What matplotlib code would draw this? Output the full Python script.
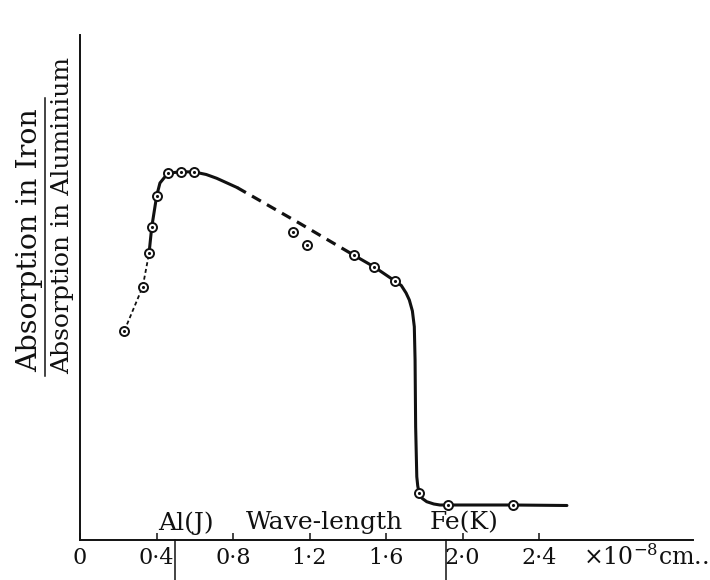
import matplotlib
matplotlib.use("Agg")
import matplotlib.pyplot as plt
from matplotlib.lines import Line2D

plt.rcParams['font.family'] = ['DejaVu Serif']
plt.rcParams['mathtext.fontset'] = 'dejavuserif'

# wave-length (x 10^-8 cm) and absorption ratio (arbitrary units)
obs_x = [0.232, 0.328, 0.361, 0.375, 0.401, 0.459, 0.527, 0.598,
         1.115, 1.187, 1.433, 1.539, 1.649, 1.774, 1.924, 2.264]
obs_y = [2.09, 2.53, 2.87, 3.13, 3.44, 3.67, 3.68, 3.68,
         3.08, 2.95, 2.85, 2.73, 2.59, 0.47, 0.35, 0.35]

# curve pieces
dotted_x = [0.232, 0.328, 0.361]
dotted_y = [2.093, 2.533, 2.867]

solid1_x = [0.361, 0.375, 0.401, 0.418, 0.459, 0.527, 0.598, 0.66, 0.715, 0.821]
solid1_y = [2.867, 3.127, 3.443, 3.570, 3.667, 3.683, 3.680, 3.655, 3.617, 3.525]

dashed_x = [0.821, 1.150, 1.433]
dashed_y = [3.525, 3.165, 2.847]

solid2_x = [1.433, 1.539, 1.649, 1.680, 1.705, 1.722, 1.738, 1.748, 1.752, 1.755,
            1.761, 1.766, 1.774, 1.790, 1.813, 1.850, 1.882, 1.924, 2.264, 2.546]
solid2_y = [2.847, 2.730, 2.587, 2.545, 2.470, 2.400, 2.290, 2.133, 1.800, 1.133,
            0.633, 0.540, 0.467, 0.415, 0.383, 0.360, 0.350, 0.350, 0.350, 0.345]

xticks = [0, 0.4, 0.8, 1.2, 1.6, 2.0, 2.4]
xtick_labels = ['0', '0·4', '0·8', '1·2', '1·6', '2·0', '2·4']

edge_marks = {'Al(J)': 0.497, 'Fe(K)': 1.914}

W, H = 710, 580
fig = plt.figure(figsize=(7.1, 5.8), dpi=100)
ax = fig.add_axes([80 / W, 40 / H, (693 - 80) / W, (540 - 35) / H])
ax.set_xlim(0, (693 - 80) / 191.25)
ax.set_ylim(0, (540 - 35) / 100)

ink = '#111111'
ax.plot(dotted_x, dotted_y, color=ink, lw=1.3, dashes=(2.2, 1.6))
ax.plot(solid1_x, solid1_y, color=ink, lw=2.2, solid_capstyle='round',
        solid_joinstyle='round')
ax.plot(dashed_x, dashed_y, color=ink, lw=2.3, dashes=(3.2, 2.2))
ax.plot(solid2_x, solid2_y, color=ink, lw=2.2, solid_capstyle='round',
        solid_joinstyle='round')

ax.plot(obs_x, obs_y, 'o', ms=6.5, mfc='white', mec=ink, mew=1.4, zorder=3)
ax.plot(obs_x, obs_y, '.', ms=2.5, color=ink, zorder=4)

for s in ['top', 'right']:
    ax.spines[s].set_visible(False)
for s in ['left', 'bottom']:
    ax.spines[s].set_linewidth(1.4)
    ax.spines[s].set_color(ink)

ax.set_yticks([])
ax.set_xticks(xticks, xtick_labels)
ax.tick_params(axis='x', direction='in', length=5, width=1.1, pad=5,
               labelsize=16, colors=ink)

# edge markers hanging below the axis
for name, xv in edge_marks.items():
    ax.plot([xv, xv], [0, -0.42], color=ink, lw=1.1, clip_on=False)

ax.text(0.555, 0.17, 'Al(J)', ha='center', va='center', fontsize=18, color=ink)
ax.text(1.281, 0.17, 'Wave-length', ha='center', va='center', fontsize=18, color=ink)
ax.text(2.008, 0.17, 'Fe(K)', ha='center', va='center', fontsize=18, color=ink)
ax.text(2.63, -0.17, r'$\times$10$^{-8}$cm..', ha='left', va='center',
        fontsize=17, color=ink, clip_on=False)

# y label drawn as a fraction
fig.text(30 / W, 1 - 372 / H, 'Absorption in Iron', rotation=90,
         rotation_mode='anchor', ha='left', va='center', fontsize=20.5, color=ink)
fig.text(63 / W, 1 - 374 / H, 'Absorption in Aluminium', rotation=90,
         rotation_mode='anchor', ha='left', va='center', fontsize=18, color=ink)
fig.add_artist(Line2D([45 / W, 45 / W], [1 - 376 / H, 1 - 98 / H],
                      transform=fig.transFigure, color=ink, lw=1.1))

fig.savefig('out.png', dpi=100)
